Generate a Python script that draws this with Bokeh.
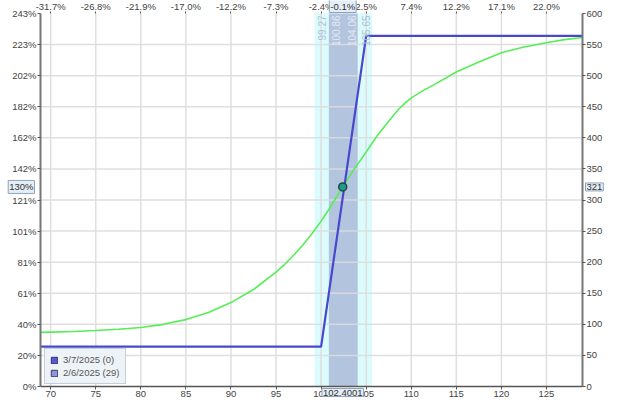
from bokeh.plotting import figure
from bokeh.models import (Range1d, LinearAxis, FixedTicker, BoxAnnotation, Label,
                          Legend, LegendItem)
from bokeh.embed import file_html
from bokeh.resources import INLINE
import math

# ---------------- data ----------------
x_start, x_end = 68.87, 129.0
y_start, y_end = 0, 600

price_ticks = [70, 75, 80, 85, 90, 95, 100, 105, 110, 115, 120, 125]
price_labels = ["70", "75", "80", "85", "90", "95", "100", "105", "110", "115", "120", "125"]
pct_change_labels = ["-31.7%", "-26.8%", "-21.9%", "-17.0%", "-12.2%", "-7.3%", "-2.4%",
                     "2.5%", "7.4%", "12.2%", "17.1%", "22.0%"]

value_ticks = [0, 50, 100, 150, 200, 250, 300, 350, 400, 450, 500, 550, 600]
value_labels = ["0", "50", "100", "150", "200", "250", "300", "350", "400", "450", "500", "550", "600"]
pct_labels = ["0%", "20%", "40%", "61%", "81%", "101%", "121%", "142%", "162%", "182%",
              "202%", "223%", "243%"]
grid_value_ticks = value_ticks[1:-1]

# expiration (3/7/2025) payoff
expiry_x = [68.87, 100, 105, 129.0]
expiry_y = [64, 64, 564, 564]

# T+29 days (2/6/2025) curve
t29_x = [68.87, 70, 72.5, 75, 77.5, 80, 82.5, 85, 87.5, 90, 92.5, 95, 96, 97, 98, 99,
         100, 101, 102.4, 103.5, 105, 106.2, 107.4, 108.6, 109.4, 110.1, 111.3, 112.6,
         115, 117.5, 120, 122.5, 125, 127, 129.0]
t29_y = [87, 87.5, 88.5, 90, 92, 95, 100, 107.6, 119, 135, 156, 184, 197, 212, 228, 246,
         266, 288, 321, 346, 377, 403, 425, 446, 457, 465, 476, 486,
         506, 522, 537, 546, 553, 558, 561.5]

sd1_low, sd1_high = 100.86, 104.06
sd2_low, sd2_high = 99.27, 105.65
sd_labels = ["99.27", "100.86", "104.06", "105.65"]

current_price = 102.4001
current_price_label = "102.4001"
current_value = 321
current_value_label = "321"
current_pct_label = "130%"
current_change_label = "-0.1%"

legend_labels = ["3/7/2025 (0)", "2/6/2025 (29)"]

# ---------------- layout (pixels) ----------------
CANVAS_W, CANVAS_H = 608, 401
FRAME_L, FRAME_R, FRAME_T, FRAME_B = 40, 582, 13, 386

# the drawing area covers the whole canvas; the axes are pinned at the data edges
sx = (FRAME_R - FRAME_L) / (x_end - x_start)
sy = (FRAME_B - FRAME_T) / (y_end - y_start)
view_x = (x_start - FRAME_L / sx, x_end + (CANVAS_W - FRAME_R) / sx)
view_y = (y_start - (CANVAS_H - FRAME_B) / sy, y_end + FRAME_T / sy)

FONT = "Liberation Sans"
FS = "9.5px"
TXT = "#444444"

p = figure(width=CANVAS_W, height=CANVAS_H, output_backend="svg", toolbar_location=None,
           x_range=Range1d(*view_x), y_range=Range1d(*view_y),
           x_axis_location=None, y_axis_location=None,
           min_border_left=0, min_border_right=0, min_border_top=0, min_border_bottom=0)
p.min_border = 0
p.outline_line_color = None
p.background_fill_color = "white"
p.border_fill_color = "white"
p.grid.visible = False

# bands
p.add_layout(BoxAnnotation(left=sd2_low, right=sd2_high, bottom=y_start, top=y_end,
                           fill_color="#dcfbfd", fill_alpha=1, line_color=None, level="image"))
p.add_layout(BoxAnnotation(left=sd1_low, right=sd1_high, bottom=y_start, top=y_end,
                           fill_color="#b2c4de", fill_alpha=1, line_color=None, level="image"))

# grid lines (limited to the data area)
p.segment(x0=price_ticks, y0=[y_start] * len(price_ticks), x1=price_ticks,
          y1=[y_end] * len(price_ticks), line_color="#dcdcdc", line_width=1.5, line_alpha=0.9)
p.segment(x0=[x_start] * len(grid_value_ticks), y0=grid_value_ticks,
          x1=[x_end] * len(grid_value_ticks), y1=grid_value_ticks,
          line_color="#dcdcdc", line_width=1.5, line_alpha=0.9)


def make_axis(ticks, labels, loc, bounds, line_w, line_c, tick, standoff):
    ax = LinearAxis(ticker=FixedTicker(ticks=ticks),
                    major_label_overrides=dict(zip(ticks, labels)),
                    fixed_location=loc, bounds=bounds)
    ax.major_label_text_font = FONT
    ax.major_label_text_font_size = FS
    ax.major_label_text_color = TXT
    ax.major_tick_in = 0
    ax.major_tick_out = tick
    ax.minor_tick_in = 0
    ax.minor_tick_out = 0
    ax.major_tick_line_color = "#555555"
    ax.axis_line_color = line_c
    ax.axis_line_width = line_w
    ax.major_label_standoff = standoff
    return ax


p.add_layout(make_axis(price_ticks, price_labels, y_start, (x_start, x_end), 1.5, "#555555", 3, 1), "below")
p.add_layout(make_axis(value_ticks, pct_labels, x_start, (y_start, y_end), 2, "#777777", 3, 1), "left")
p.add_layout(make_axis(value_ticks, value_labels, x_end, (y_start, y_end), 2, "#777777", 3, 1), "right")
p.add_layout(make_axis(price_ticks, pct_change_labels, y_end, (x_start, x_end), 0, None, 2, 0), "above")

# curves
p.line(t29_x, t29_y, line_color="#55ee55", line_width=1.6)
p.line(expiry_x, expiry_y, line_color="#4848cc", line_width=2.2)
p.scatter([current_price], [current_value], size=8, fill_color="#1f9a90",
          line_color="#1e4a3a", line_width=1.5)

# sd labels (vertical)
sd_vals = [sd2_low, sd1_low, sd1_high, sd2_high]
sd_cols = ["#a9c3d3", "#e4ebf3", "#e4ebf3", "#a9c3d3"]
sd_base = ["top", "top", "bottom", "bottom"]
for v, t, c, b in zip(sd_vals, sd_labels, sd_cols, sd_base):
    p.add_layout(Label(x=v, y=y_end, text=t, angle=math.pi / 2, text_align="right",
                       text_baseline=b, y_offset=-2, x_offset=(3 if b == "top" else -2),
                       text_font=FONT, text_font_size="10px", text_color=c))

# highlighted value labels
box_kw = dict(text_font=FONT, text_font_size=FS, text_color="#333333",
              background_fill_color="#e4eef8", background_fill_alpha=1,
              border_line_color="#8fa3b8", border_line_width=1, padding=1)
p.add_layout(Label(x=x_start, y=current_value, text=current_pct_label, text_align="right",
                   text_baseline="middle", x_offset=-6, **box_kw))
p.add_layout(Label(x=x_end, y=current_value, text=current_value_label, text_align="left",
                   text_baseline="middle", x_offset=3, **box_kw))
p.add_layout(Label(x=current_price, y=y_start, text=current_price_label, text_align="center",
                   text_baseline="top", y_offset=-2, **box_kw))
p.add_layout(Label(x=current_price, y=y_end, text=current_change_label, text_align="center",
                   text_baseline="bottom", y_offset=1, **box_kw))

# legend
nan = float("nan")
r1 = p.quad(left=[nan], right=[nan], top=[nan], bottom=[nan],
            fill_color="#5a5acd", line_color="#2f2f80")
r2 = p.quad(left=[nan], right=[nan], top=[nan], bottom=[nan],
            fill_color="#8b9ad6", line_color="#3a3a7a")
legend = Legend(items=[LegendItem(label=legend_labels[0], renderers=[r1]),
                       LegendItem(label=legend_labels[1], renderers=[r2])],
                location=(FRAME_L + 4, CANVAS_H - FRAME_B + 2),
                background_fill_color="#eef3f8", background_fill_alpha=1,
                border_line_color="#9aabbd", border_line_width=1,
                label_text_font=FONT, label_text_font_size=FS, label_text_color="#555555",
                glyph_width=8, glyph_height=8, label_height=11, label_standoff=5,
                spacing=2, padding=5, margin=0)
p.add_layout(legend, "center")

open("out.html", "w").write(file_html(p, INLINE))
